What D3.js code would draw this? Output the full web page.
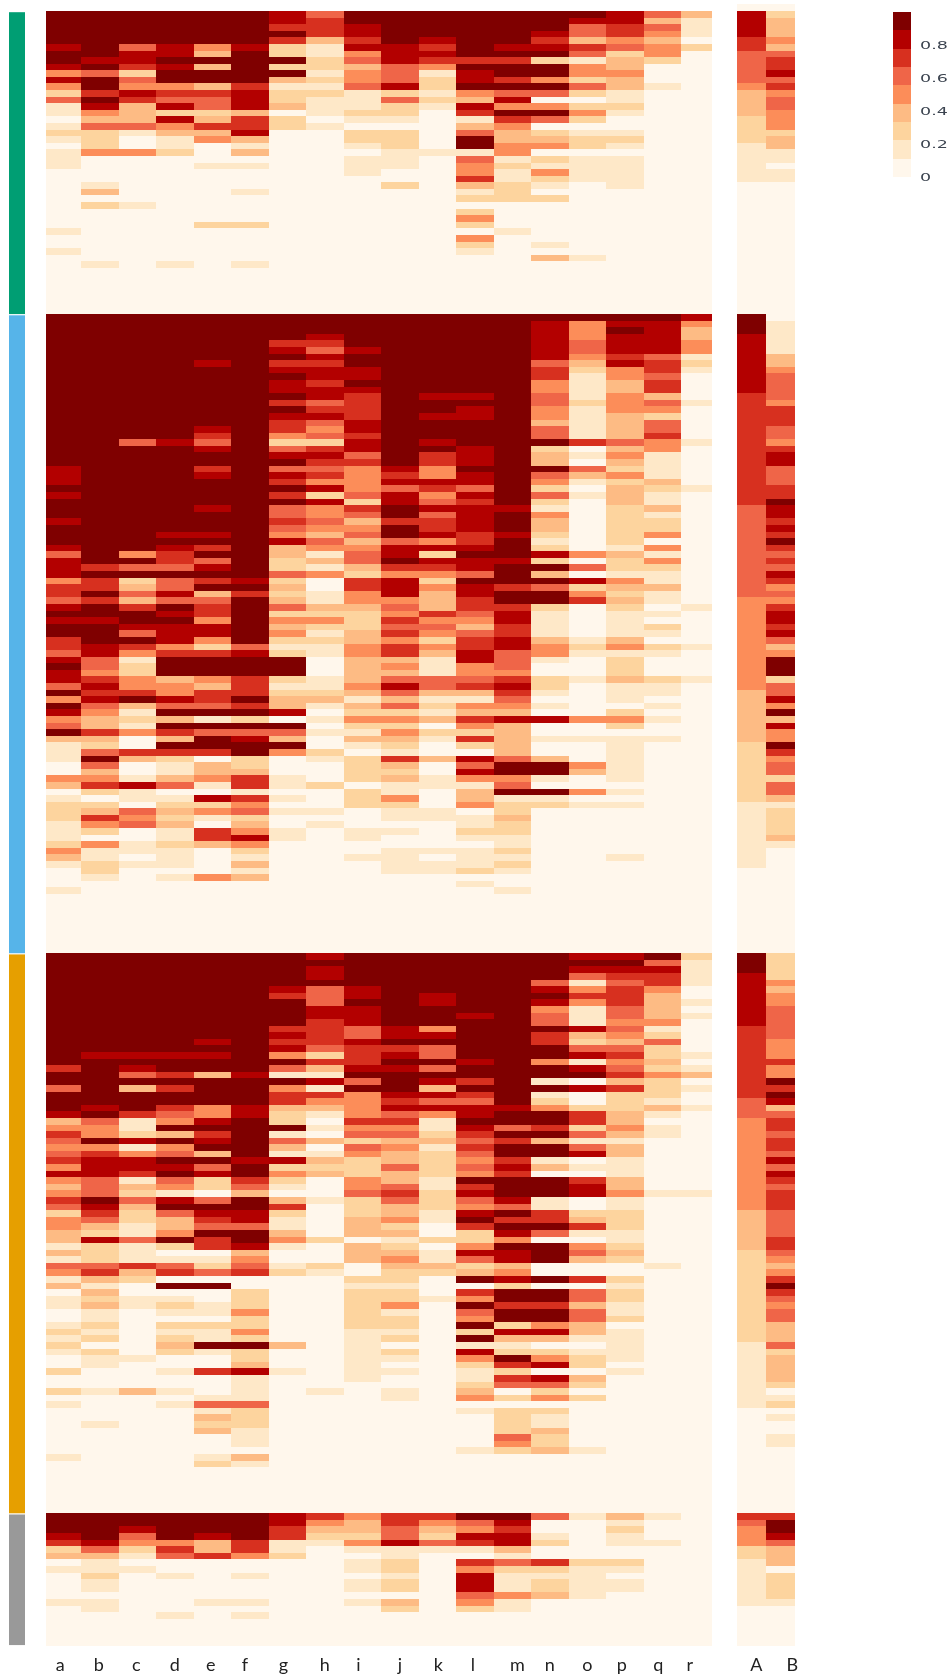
<!DOCTYPE html>
<html><head><meta charset="utf-8">
<script src="https://cdn.jsdelivr.net/npm/d3@7"></script>
<style>html,body{margin:0;background:#fff}svg{display:block}</style></head>
<body><svg id="c" width="949" height="1677"></svg>
<script>
// Each string is one column, top to bottom, as colour-bin
// numbers 0..8 (run-length written: "8*5" = five cells of bin 8).
const categories = "abcdefghijklmnopqr".split("");
const extraCategories = ["A","B"];
const groupColors = ["#009E73","#56B4E9","#E69F00","#999999"];
const groupRows = [46,97,85,20];
const legendTicks = [0,0.2,0.4,0.6,0.8];

const group1 = [
"8*5 7 8*2 7 4 7 4 2 5 1*2 0 1 2 1 0 1*3 0*9 1 0*2 1 0*9",
"8*7 7 8 5 8*2 6 8 7 4 3 5 2*3 4 0*4 1 3 0 2 0*8 1 0*7",
"8*5 5 7*2 6 2 5 4 7 6 3*3 5 1 0*2 4 0*7 1 0*16",
"8*5 7*2 8 7 8*2 4 6 5 7 2 7 4 3 1*2 2 0*16 1 0*7",
"8*5 4 3 8 3 8*2 3 6 5*2 2 3 6 3 4 0*3 1 0*8 2 0*13",
"8*5 7 8*5 6 7*3 3 6*2 7 3 1 3 0 1 0*3 1 0*4 2 0*5 1 0*7",
"7*2 6 8 6 2*2 8 2 8 3 1 2*2 3 0 2*2 0*28",
"5 6*3 3 1*2 2*2 1 2 1 2 1*3 0 1 0*28",
"8*2 7*2 6 7 4 5 3 4*2 5 1*3 2 1 0 2*2 1 0 1*3 0*21",
"8*5 7*3 5*3 7 2 5 2*2 1 0 2*3 1*3 0*2 2 0*19",
"8*4 7 6 7 6 4 1 2*2 1 2 1 0*6 1 0*24",
"8*7 6 8 7*2 8 4 3 7 6 1 3 5 8*2 1 5 4*2 6 3 1 2 0 2 4 2 0 4 2 1 0*9",
"8*5 7 8 6 8*2 6 8 5 7 4 8 6 4 3*2 4*2 1 2 1*2 2*3 0*4 1 0*12",
"8*3 7 6 7 8 2 8*2 4 8 5 0 4 8 5 0 2 3 4 0 2 1 4 2 1 0 2 0*6 1 0 3 0*8",
"8 7 5*2 3 6 5 1 4*2 2 5 2 0 2 4 2 0 1 2*2 0 1*4 0*11 1 0*8",
"7*2 6*2 4 5 2 3*2 4 3*2 1*2 2 1 0*2 1 2 1 0 1*5 0*19",
"5 3 5 4 3 4*2 2 0*3 1 0*34",
"3 1*3 0 2 0*40"];
const group1Extra = [
"0 7*4 6*2 5*5 4 3*4 2*4 1*6 0*20",
"0 2 3*3 4 3 5 6*2 7 5 6 4 5*2 4*3 2 3*2 1*2 0 1*2 0*20"];

const group2 = [
"8*23 7*3 8 7 8*3 7 8*3 7 5 7*3 4 6*2 5 7 8 7 8*2 6*2 5 7 8 7*2 5 8 4 8 7 4 5 8 3 1*3 0*2 4 3 0 1 2*3 1*3 2 4 3 1 0*3 1 0*9",
"8*38 6 8 6*2 8 6 8*2 7 8*3 7*2 5*2 4 6 7 6 7 5 4 3*2 6 3 2 5 8 5 3 4 6 2 0 2 3 6 4 2 0 4 1*2 2*2 1 0*11",
"8*19 5 8*16 4 8 5 8 2 3 5 3 6 8*2 7 5 8 6 4 1 2*2 4*2 6 8 3 1 2 1 4 0*2 6 3 0*2 1 7 1*2 0 5 4 5 0*2 1*2 0 1 0*13",
"8*19 7 8*13 7 8 7 6*2 5 8 5*2 7 5 8 7 8 7*3 4 6 8*3 3 4*2 7 5 8 3 8 6 3 8 6 2 1*2 3 5 0 1 2 3 2 3 1*2 2 1*3 0 1 0*11",
"8*7 7 8*9 7 6 5 7 8*2 6 7 8*4 7 8*3 7 8 6 8 5 7 8 6 8 3 5 6*2 4 7*2 4 2 6 8*3 4 3 6*2 5 8 1 8 5 8*2 6 0 3*2 4 1 0 7 2 4 1 0 6*2 3 0*4 4 0*11",
"8*40 7 8 6 8*7 5 7 8*3 6*3 8 6 8 2 8 5 7 8*2 2*2 3 6*2 1 6 4 5 2 3 4 7 4 2 1 3 1 3 0*11",
"8*4 6 7 8 6 7 8 7*2 8 6 8 7 6*2 4 2 5 7 8 5 7 6 8 6 8 5*2 6 5 4 7 3*2 2*2 5 2 3 2 3 5 2 4 3 4 2 1 2 8*3 2 1 2 3*2 7 0 8 5 3 8 4 0*3 1*2 0 1 0 1 0*2 1*2 0*17",
"8*3 7 6 5 7 6 7*2 6 7*2 5 6 7 5 4 5 2 6 7 6 5 6 4 7 2 7 4*2 5 4 3 5 4 1 3 1 4 0*2 1*2 3 2 4 2 1 2 1*2 0*3 1*2 2 3 1 0 1 0 1 0*2 2 1 0*3 2 0*3 1 0 1 0*19",
"8*5 7 8*2 7*2 8 7 6*4 7*2 6 7*2 5 6 4*4 5 2 6 5 3 4 5 3 4 5*2 3 2 6*2 4*2 3 2*3 3*2 4*2 3*4 4 3 1 3 2 4 2 1 3 1 0 2*4 0 2*3 0*3 1*2 0*2 1 0*14",
"8*23 7 6 7 5 7*2 8*2 6 8*2 5 7*2 8 6 4 7*3 4 5 4 6 5 6 4 6*2 3 4 3 5 7 5 3 5 2 4 2 4 3 2 1 6 3 2 3 1*2 4 2 1*2 0 1 0*2 1*4 0*12",
"8*12 7 8*2 7 8*3 7 8 6*2 4*2 7 6 4 5 7 5 6*2 7 4 7 2 7 6 4 2 4 3*3 6 4 5 4 2 4 3 1*3 5*2 3 1 2 1 3 0 2 1 0*2 3 0*2 1*2 0*3 1*2 0*4 1 0 1*2 0*12",
"8*12 7 8 7*2 8*4 7*3 8 7*2 5 7 6 7*4 6*2 7 8 7*2 5 8 7*2 6*2 5 4 3 5 6*2 7*2 4*2 5 6 3 1 4 3 6 4 2 6 2 0 7 5 7 4 1 3*2 4 0 1*2 2 1 0 1*3 2 0 1 0*10",
"8*29 7 8*3 7 8*3 7 8*3 6 8*2 6 7*2 6*2 7*2 5*3 4 6 7 6 5 4 3 7 3*5 5 8*2 4 5 8 1 2*2 3 2*2 1*2 2 1 2 1 0*2 1 0*9",
"8 7*6 5 6*2 4*2 5*2 4*2 3 5*2 8 2 3*2 8 5 4 2 5 2 1 4 3*2 2 1 2 7 2 8 3 8 5 8*2 2 1*4 3 4*2 1 0*2 2*2 1 0 1 0 7 0*2 1 0*2 3 8*2 1 0 8 1 2 0*22",
"8 4*3 5*2 4 3 2 1*4 2 1*5 6 0 1 0 5 3 1 0 1 0*8 4 0 5 0 7 2 4 6 0*5 1 2 1 0*3 1 0*5 4 0*2 1 0*3 4 3 0*2 4 0 1 0*22",
"8 7 8 7*3 6 7 4*2 3*2 4*3 3*4 5 3 4 3 2 4 2 3*3 2*6 1 3 2*2 1 4 3 2 3 2 1*4 3 4 1 2*3 3 1*3 0 2 4 2 0 1*7 0 1 0 1 0*7 1 0*14",
"8 7*5 5 6*2 5 6*2 3 5 4 2 5*2 6 4*2 1*4 3 2 1*2 3 1 2*2 4 0 4 1 4 2 1*2 3 1*2 0 1 0 2 1 0 2 1 0*3 2 1*2 0 1 0 1 0*2 1 0*32",
"7 4 3*2 4*2 1 2 1 0*4 1 0*5 1 0*6 1 0*17 1 0*5 1 0*4 1 0*41"];
const group2Extra = [
"8*3 7*9 6*17 5*14 4*14 3*8 2*9 1*10 0*13",
"0 1*5 3*2 4 5*4 4 6*3 5*2 4 6 7*2 5*3 6*2 8 7*2 6 7 6 8 6 5 6 5 7 6 4 5 4 6 7*2 6 7 5 3 4 8*3 2 5*2 7 4 8 3 7 4*2 8 6 4 5*2 2 5*2 3 1 2*4 3 1 0*16"];

const group3 = [
"8*17 6 8*2 5 8*3 7 3 4 6 5 4 5 6 4 7 4 3 4 6 5 2 4*2 3*2 1 3 1 5 4 1 3 0 1*2 0*2 1 2 1 2 1 0*2 2 0*2 2 0 1 0*7 1 0*8",
"8*15 7 8*7 7 8 5 4*2 8 4 6 7*3 5*3 8 7 6 5 3 2 7 2*3 5 6 3 1 3 2 3 1*2 2 1 2 0 2 1*2 0*3 1 0*4 1 0*13",
"8*15 7 8 7 5 8 3 8*3 6 1*2 2 7 1 4 7*2 6 1 3 2 5 3 2*2 1*2 5 1*3 6 3 2 0*2 1*2 0*7 1 0*4 3 0*18",
"8*15 7 8*2 6 8 6 8*2 6 5 4 8 3 8 4 5 8 7 8 5 4 1 7 8 5 3*2 4 8 2 0 1 5 6 0 8 0 1 2 1 0 2 1 2 3 2 0*2 1 0*2 1 0 1 0*16",
"8*13 7 8 7 8*2 3 8*4 4*2 7 8 6 7 8 3 8 5 7 2*2 0 5 8 7 6 5 8 6*2 0 1 2 5 0 8 0*2 1*2 0 2 1*2 8 1 0*2 6 0*3 1 5 1 3 2 3 0*3 1 2 0*7",
"8*18 7 8*4 7*2 8*6 7 8*2 6 5 3 8*2 7*2 5 8*2 7 3 4 5 6 0*2 2*3 4 2*2 4 2 8 2*2 3 7 1*4 5 2*3 1*3 0 3 1 0*7",
"8*5 7 6 8*4 6 7 6 7 4 8 5 1 8 4 6*2 3 2*2 8 1 5 3 1 7 2 4 2 1 0 3 6 2 1*2 3 4 1 0*2 1 2 0*10 3 0*3 1 0*21",
"7 8 7*2 8 5*3 7*2 6*4 5 2 6 3 1 7 1 6 4 3 1 0 1 0 3 0 1 3 2 3 0*3 1 0*5 2 0*3 2 1 0*17 1 0*18",
"8*5 7*2 8 7*3 5*2 7 6*3 7 8 5 8 4*4 6 4 5 2 5 4 2*3 4*2 5 2*3 3*3 0 3*3 0*2 2 1 2*6 1*8 0*20",
"8*11 7*2 8 6 7 8 7 8*3 7 6 7 5 6 4 5 3 4 3*2 5 3*2 5 6 5 3*2 4 2 3 1 2 3 4 3 2*2 1 2*2 4 1 2*2 1 2 0 2 1 0 1 0*2 1*2 0*17",
"8*6 7*2 8*3 4 7 8 5*2 8 5 8 7 3 7 5 7 4 1*2 2 3 1 2*3 2 1*2 2*3 1*2 0*2 2 0 1*2 3 2 0*3 1 0*32",
"8*9 7 8*6 7 8*2 6 8 6 5 7*2 8 7 6 5 6 5 4 5 4 8 6 7 5 4 7 8 6 2*2 4 7 5 2 3 8 0 6 4 8 5 4 8 2 8 1 7 4 2 1*2 2 3 4 0 1 0*5 1 0*9",
"8*23 7 8*2 5 8 6 8*2 6 7 6 8*3 7 5 8 6 8 7 4 8 7*2 3 4 7 2 8*2 6 8*2 2 7 3 1 2 8 6 2 6 5 0 2 0 2*4 5 4 2 0*9",
"8*4 5 7 8 7 4 5*2 8 6*2 8*2 4 8*2 1 8 1 2 4 8*2 6 8 3 8*2 1 3 0 8*3 1*2 6*2 8 5 0 8*3 0*2 8 0 8*2 6 8*2 4 7 3 0 2 4 7 0 7 5 2 4 0 2 1*2 3 2*2 3 0*9",
"7 8 7 5 1 4 6 4 1*3 7 3 2 5 7 1 7 8 0 7 0*2 2 6*2 2 5 1 5 7 0 1 0 6 7*2 0*2 2 3 6 1 0 4 5 3 0*2 6 0 5*2 3 5*2 3*2 1 0 1 2*2 0 3 2 0 2 0*7 1 0*9",
"7 8 7 6 5 6*3 5*2 4 5 4 3 5 6 4 5 6 3 6 2*3 3*2 4 3 1 3*2 1*3 3*2 4 1*2 2*3 1*2 2 3 2 0*2 2 1 2*2 1*2 2 0 1*5 0 1 0*21",
"8 5 7 6*2 4 3*4 4 1 2 5 2*2 3 2 4 2*3 1 3 1 0 1*2 0*8 1 0*10 1 0*37",
"2 1*4 0*2 1 0 1 0*5 1 0 1 3 0 1 0*2 1 0*12 1 0*48"];
const group3Extra = [
"8*3 7*8 6*11 5*3 4*14 3*6 2*14 1*10 0*16",
"2*4 4 3 4*2 5*5 4*3 6 4*2 8 6 8 7 3 5 6*2 5 6*2 5 7 5 7 6 5 6*3 5*4 6*2 5 4 3 4 6 8 6 5 4 5*2 3*3 5 2 3*4 2 0 1 2 0 1 0*2 1*2 0*10"];

const group4 = [
"8*3 7 6 2 3 0 1 0*4 1 0*6",
"8*4 7 5 3 1*2 2 1*2 0 1*2 0*5",
"8*2 7 5 4 2 1 0 1 0*11",
"8*4 4 6 5 0*2 1 0*5 1 0*4",
"8*3 7 3*2 6 0*6 1 0*6",
"8*4 6*2 4 0*2 1 0*3 1 0 1 0*4",
"7*2 6*2 1*2 2 0*13",
"6 4 3 2 1 0*15",
"4 3*2 2 4 1 0 1*2 0 1*2 0 1 0*6",
"6*2 5*2 7 1*2 2*2 1 2*2 0 3 2 0*5",
"6 4 3 2 5 1 0*14",
"8 5 4 7 6 1 0 6 4 7*3 5 4 2 0*5",
"8 7 6 7*2 3 1 5 2 1*3 4 1*2 0*5",
"5 0*2 1 2 0*2 6 2 1 2*2 3 0*7",
"1 0*6 2 1*5 0*7",
"3 1 2 1*2 0*2 2 1 0 1*2 0*8",
"1 0*3 1 0*15",
"0*20"];
const group4Extra = [
"6 5 4*3 2*2 1*7 0*6",
"6 8*2 7 5 3*3 0 2*4 1 0*6"];

const groupColumns = [group1, group2, group3, group4];
const groupExtras = [group1Extra, group2Extra, group3Extra, group4Extra];

// Expand a run-length column into numbers in the colour scale's [0,1] domain.
const expand = (s, n) => {
  const out = s.trim().split(/\s+/).flatMap(t => {
    const [v, c] = t.split("*");
    return d3.range(+(c || 1)).map(() => (+v + 0.5) / 9);
  });
  return d3.range(n).map(i => i < out.length ? out[i] : 0.5 / 9);
};

// Layout
const svg = d3.select("#c");
const root = svg.append("g").style("filter", "blur(0.55px)");
const color = d3.scaleQuantize().domain([0, 1]).range(d3.schemeOrRd[9]);
const totalRows = d3.sum(groupRows);
const rowH = 6.589;
const y = d3.scaleBand().domain(d3.range(-1, totalRows))
  .range([11 - rowH, 11 + totalRows * rowH]);
const x = d3.scaleBand().domain(categories).range([43.6, 718.6]);
const xExtra = d3.scaleBand().domain(extraCategories).range([736.7, 795]);

const cells = [], cellsExtra = [], bars = [];
let start = 0;
groupRows.forEach((n, g) => {
  categories.forEach((c, j) => expand(groupColumns[g][j], n).forEach((v, i) =>
    cells.push({ c, row: start + i, v })));
  const off = g === 0 ? 1 : 0;
  extraCategories.forEach((c, j) => expand(groupExtras[g][j], n + off).forEach((v, i) =>
    cellsExtra.push({ c, row: start + i - off, v })));
  bars.push({ g, first: start, last: start + n - 1 });
  start += n;
});

svg.append("defs").append("clipPath").attr("id", "main")
  .append("rect").attr("x", 46).attr("y", 0).attr("width", 666).attr("height", 1677);

root.append("g").selectAll("rect").data(bars).join("rect")
  .attr("x", 9).attr("width", 16)
  .attr("y", d => y(d.first) + 1.2)
  .attr("height", d => y(d.last) + y.bandwidth() - y(d.first) - 1.2)
  .attr("fill", d => groupColors[d.g]);

root.append("g").attr("clip-path", "url(#main)").attr("shape-rendering", "crispEdges")
  .selectAll("rect").data(cells).join("rect")
  .attr("x", d => x(d.c)).attr("width", x.bandwidth())
  .attr("y", d => y(d.row)).attr("height", y.bandwidth() + 0.5)
  .attr("fill", d => color(d.v));

root.append("g").attr("shape-rendering", "crispEdges")
  .selectAll("rect").data(cellsExtra).join("rect")
  .attr("x", d => xExtra(d.c)).attr("width", xExtra.bandwidth())
  .attr("y", d => y(d.row)).attr("height", y.bandwidth() + 0.5)
  .attr("fill", d => color(d.v));

// Column labels (the reference sets them slightly off the cell centres)
const nudge = {a:-2,b:-1,c:-1,d:0,e:-1.5,f:-5,g:-4,h:0,i:-4,j:0,k:1,l:-2,m:5,n:0,o:0,p:-3,q:-4,r:-10};
const labelFont = "Lato, Carlito, sans-serif";
root.append("g").selectAll("text").data(categories).join("text")
  .attr("x", d => x(d) + x.bandwidth() / 2 + nudge[d]).attr("y", 1671)
  .attr("text-anchor", "middle").attr("font-family", labelFont).attr("font-size", 18)
  .attr("fill", "#222").text(d => d);
root.append("g").selectAll("text").data(extraCategories).join("text")
  .attr("x", d => xExtra(d) + xExtra.bandwidth() / 2 + (d === "A" ? 5 : 12)).attr("y", 1671)
  .attr("text-anchor", "middle").attr("font-family", labelFont).attr("font-size", 18)
  .attr("fill", "#222").text(d => d);

// Legend
const legendY = d3.scaleLinear().domain([0, 1]).range([177, 12]);
const bins = color.range().map(c => ({ c, e: color.invertExtent(c) }));
root.append("g").attr("shape-rendering", "crispEdges").selectAll("rect").data(bins).join("rect")
  .attr("x", 893).attr("width", 18)
  .attr("y", d => legendY(d.e[1])).attr("height", d => legendY(d.e[0]) - legendY(d.e[1]))
  .attr("fill", d => d.c);
root.append("g").selectAll("text").data(legendTicks).join("text")
  .attr("transform", d => `translate(920,${legendY(d) + 3.6}) scale(1.75,1)`)
  .attr("font-family", "DejaVu Sans, sans-serif").attr("font-size", 10)
  .attr("fill", "#3c4450").text(d => d);
</script></body></html>
